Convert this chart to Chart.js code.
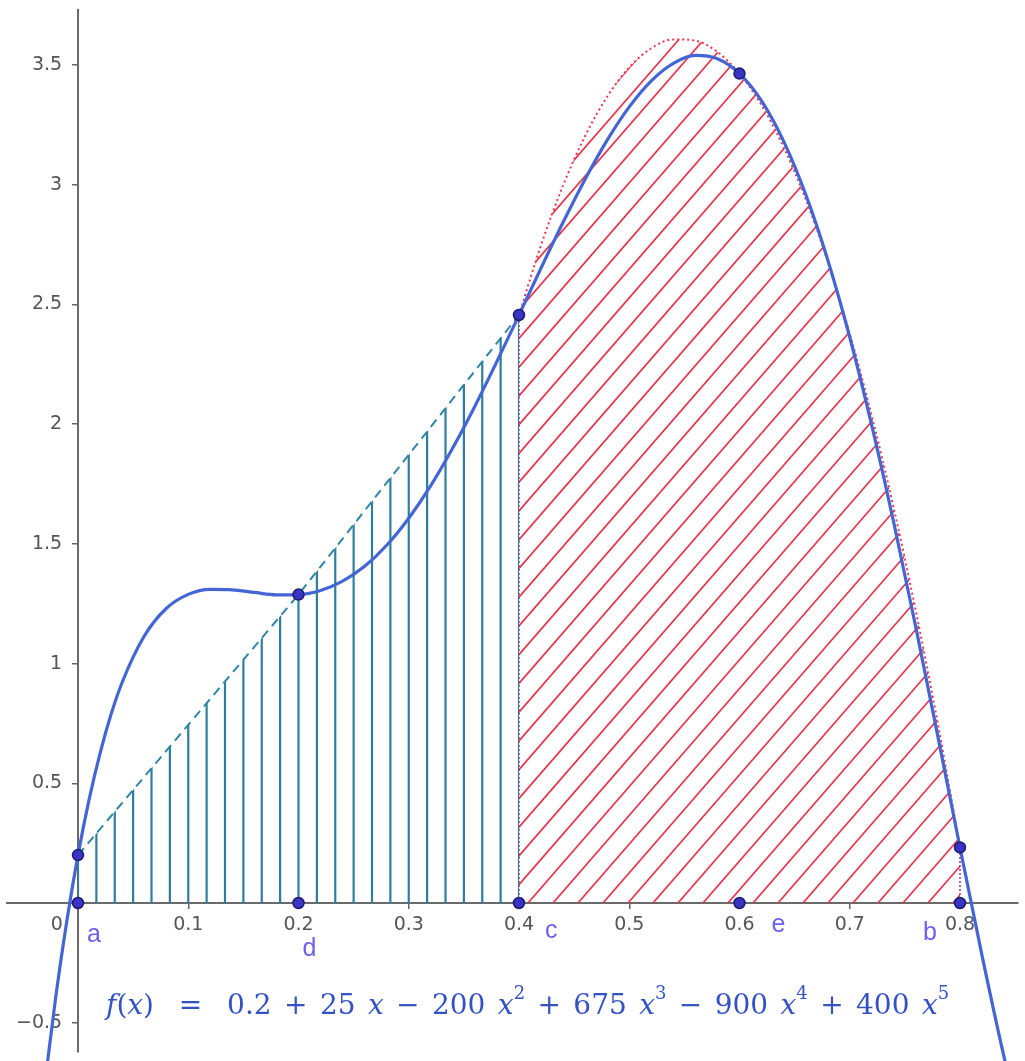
<!DOCTYPE html>
<html>
<head>
<meta charset="utf-8">
<script src="https://cdn.jsdelivr.net/npm/chart.js@4.4.1/dist/chart.umd.min.js"></script>
<style>
html, body { margin: 0; padding: 0; background: #ffffff; }
#wrap { position: relative; width: 1025px; height: 1061px; overflow: hidden; }
#formula {
  position: absolute; left: 106px; top: 990px;
  font-family: 'DejaVu Serif', 'Liberation Serif', serif;
  font-size: 28px; line-height: 30px; color: #3552c4; white-space: pre;
  word-spacing: 3.5px;
}
#formula i { font-style: italic; }
#formula sup { font-size: 18px; line-height: 0; position: relative; top: -5px; }
</style>
</head>
<body>
<div id="wrap">
  <canvas id="c" width="1025" height="1061"></canvas>
  <div id="formula"><i>f</i>(<i>x</i>)  =  0.2 + 25 <i>x</i> − 200 <i>x</i><sup>2</sup> + 675 <i>x</i><sup>3</sup> − 900 <i>x</i><sup>4</sup> + 400 <i>x</i><sup>5</sup></div>
</div>
<script>
// ---- data ----
const curveX = [-0.04, -0.03, -0.02, -0.01, 0, 0.01, 0.02, 0.03, 0.04, 0.06, 0.08, 0.10, 0.12, 0.14, 0.16, 0.18, 0.20, 0.22, 0.24, 0.26, 0.28, 0.30, 0.32, 0.34, 0.36, 0.38, 0.40, 0.42, 0.44, 0.46, 0.48, 0.50, 0.52, 0.54, 0.56, 0.58, 0.60, 0.62, 0.64, 0.66, 0.68, 0.70, 0.72, 0.74, 0.76, 0.78, 0.80, 0.82, 0.84, 0.86];
const curveY = [-1.166, -0.749, -0.386, -0.071, 0.2, 0.431, 0.625, 0.788, 0.921, 1.114, 1.230, 1.289, 1.310, 1.308, 1.297, 1.287, 1.288, 1.305, 1.344, 1.406, 1.494, 1.607, 1.743, 1.901, 2.075, 2.262, 2.456, 2.652, 2.843, 3.023, 3.186, 3.325, 3.434, 3.507, 3.540, 3.526, 3.464, 3.350, 3.182, 2.960, 2.687, 2.363, 1.994, 1.587, 1.150, 0.694, 0.232, -0.220, -0.644, -1.019];

const trapX = [0, 0.2, 0.4];
const trapY = [0.2, 1.288, 2.456];

const simpX = [0.40, 0.42, 0.44, 0.46, 0.48, 0.50, 0.52, 0.54, 0.56, 0.58, 0.60, 0.62, 0.64, 0.66, 0.68, 0.70, 0.72, 0.74, 0.76, 0.78, 0.80];
const simpY = [2.456, 2.748, 2.997, 3.204, 3.368, 3.490, 3.570, 3.607, 3.602, 3.554, 3.464, 3.332, 3.157, 2.940, 2.680, 2.378, 2.034, 1.647, 1.218, 0.746, 0.232];

const nodeX = [0, 0.2, 0.4, 0.6, 0.8];
const nodeY = [0.2, 1.288, 2.456, 3.464, 0.232];
const nodeLabels = ['a', 'd', 'c', 'e', 'b'];

const xTickValues = [0, 0.1, 0.2, 0.3, 0.4, 0.5, 0.6, 0.7, 0.8];
const xTickLabels = ['0', '0.1', '0.2', '0.3', '0.4', '0.5', '0.6', '0.7', '0.8'];
const yTickValues = [-0.5, 0.5, 1, 1.5, 2, 2.5, 3, 3.5];
const yTickLabels = ['\u22120.5', '0.5', '1', '1.5', '2', '2.5', '3', '3.5'];

// ---- helpers ----
const zip = (xs, ys) => xs.map((x, i) => ({ x: x, y: ys[i] }));
const axisNodes = nodeX.map(x => ({ x: x, y: 0 }));

// hatch fill plugin: clips to region under a dataset line and strokes hatch lines
const hatchPlugin = {
  id: 'hatchFill',
  beforeDatasetDraw(chart, args) {
    const ds = chart.data.datasets[args.index];
    const h = ds.hatch;
    if (!h) return;
    const meta = args.meta;
    const line = meta.dataset;
    const pts = meta.data;
    if (!line || !pts.length) return;
    const { ctx, chartArea } = chart;
    const ys = chart.scales.y;
    const base = ys.getPixelForValue(0);
    const first = pts[0], last = pts[pts.length - 1];
    ctx.save();
    ctx.beginPath();
    line.path(ctx);
    ctx.lineTo(last.x, base);
    ctx.lineTo(first.x, base);
    ctx.closePath();
    ctx.clip();
    ctx.strokeStyle = h.color;
    ctx.lineWidth = h.width;
    ctx.beginPath();
    if (h.type === 'vertical') {
      const step = (last.x - first.x) / h.count;
      for (let k = 0; k <= h.count; k++) {
        const x = first.x + k * step;
        ctx.moveTo(x, chartArea.top);
        ctx.lineTo(x, chartArea.bottom);
      }
    } else {
      const s = h.slope;
      const c0 = first.x + h.phase;
      const down = (chartArea.bottom - base) / s;
      const up = (base - chartArea.top) / s;
      for (let c = c0 - 80 * h.step; c <= last.x + up + h.step; c += h.step) {
        ctx.moveTo(c - down, chartArea.bottom);
        ctx.lineTo(c + up, chartArea.top);
      }
    }
    ctx.stroke();
    ctx.restore();
    if (h.edges) {
      ctx.save();
      ctx.strokeStyle = h.edgeColor;
      ctx.lineWidth = h.edgeWidth;
      ctx.setLineDash(h.edgeDash);
      ctx.beginPath();
      ctx.moveTo(first.x, base); ctx.lineTo(first.x, first.y);
      ctx.moveTo(last.x, base); ctx.lineTo(last.x, last.y);
      ctx.stroke();
      ctx.restore();
    }
  }
};

// point labels plugin
const labelPlugin = {
  id: 'nodeLabels',
  afterDatasetsDraw(chart, args, opts) {
    const { ctx } = chart;
    const xs = chart.scales.x, ys = chart.scales.y;
    const base = ys.getPixelForValue(0);
    ctx.save();
    ctx.font = opts.font;
    ctx.fillStyle = opts.color;
    ctx.textAlign = 'left';
    ctx.textBaseline = 'alphabetic';
    nodeLabels.forEach((t, i) => {
      const off = opts.offsets[i];
      ctx.fillText(t, xs.getPixelForValue(nodeX[i]) + off[0], base + off[1]);
    });
    ctx.restore();
  }
};

Chart.defaults.font.family = "'DejaVu Sans', 'Liberation Sans', sans-serif";
Chart.defaults.font.size = 19;
Chart.defaults.color = '#555555';

const chart = new Chart(document.getElementById('c'), {
  type: 'line',
  data: {
    datasets: [
      {
        label: 'nodes',
        data: zip(nodeX, nodeY).concat(axisNodes),
        showLine: false,
        pointRadius: 5.5,
        pointBackgroundColor: '#3a34c4',
        pointBorderColor: '#1e1a70',
        pointBorderWidth: 1.5,
        clip: false,
        order: 0
      },
      {
        label: 'f(x)',
        data: zip(curveX, curveY),
        borderColor: '#4465d4',
        borderWidth: 3.2,
        cubicInterpolationMode: 'monotone',
        pointRadius: 0,
        fill: false,
        clip: false,
        order: 1
      },
      {
        label: 'trapezoid',
        data: zip(trapX, trapY),
        borderColor: '#2f86a6',
        borderWidth: 2,
        borderDash: [9, 6],
        tension: 0,
        pointRadius: 0,
        fill: false,
        order: 2,
        hatch: { type: 'vertical', color: '#2e7e9e', width: 2.2, count: 24 }
      },
      {
        label: 'simpson',
        data: zip(simpX, simpY),
        borderColor: '#e8374f',
        borderWidth: 2,
        borderDash: [2, 3],
        cubicInterpolationMode: 'monotone',
        pointRadius: 0,
        fill: false,
        order: 3,
        hatch: { type: 'diagonal', color: '#e5384f', width: 1.7, step: 25, slope: 1.15, phase: 9,
                 edges: true, edgeColor: '#b8306a', edgeWidth: 1.5, edgeDash: [2, 2] }
      }
    ]
  },
  options: {
    responsive: false,
    animation: false,
    events: [],
    layout: { padding: 0 },
    plugins: {
      legend: { display: false },
      tooltip: { enabled: false },
      nodeLabels: {
        font: "25px 'Liberation Sans', 'DejaVu Sans', sans-serif",
        color: '#6b62ee',
        offsets: [[9, 39], [4, 53], [26, 35], [32, 29], [-37, 37]]
      }
    },
    scales: {
      x: {
        type: 'linear',
        position: { y: 0 },
        min: -0.07075,
        max: 0.85896,
        afterBuildTicks: (scale) => { scale.ticks = xTickValues.map(v => ({ value: v })); },
        ticks: {
          autoSkip: false,
          maxRotation: 0,
          padding: 6,
          color: '#555555',
          callback: (v, i) => (i === 0 ? xTickLabels[i] + '       ' : xTickLabels[i])
        },
        grid: { display: true, drawOnChartArea: false, drawTicks: true, tickLength: 5, color: '#666666', lineWidth: 1.5 },
        border: { display: true, color: '#6a6a6a', width: 2 }
      },
      y: {
        type: 'linear',
        position: { x: 0 },
        min: -0.6599,
        max: 3.7714,
        afterBuildTicks: (scale) => { scale.ticks = yTickValues.map(v => ({ value: v })); },
        ticks: {
          autoSkip: false,
          padding: 0,
          font: { lineHeight: 1 },
          color: '#555555',
          callback: (v, i) => yTickLabels[i] + '  \u2009'
        },
        grid: { display: true, drawOnChartArea: false, drawTicks: true, tickLength: 5, color: '#666666', lineWidth: 1.5 },
        border: { display: true, color: '#6a6a6a', width: 2 }
      }
    }
  },
  plugins: [hatchPlugin, labelPlugin]
});

// Align the scales so that the origin and unit lengths sit where the reference puts them
(function alignScales() {
  const ca = chart.chartArea;
  const ox = 78, oy = 903;               // pixel of the origin
  const pxPerX = 882 / 0.8;              // pixels per x unit
  const pxPerY = 838 / 3.5;              // pixels per y unit
  chart.options.scales.x.min = (ca.left - ox) / pxPerX;
  chart.options.scales.x.max = (ca.right - ox) / pxPerX;
  chart.options.scales.y.max = (oy - ca.top) / pxPerY;
  chart.options.scales.y.min = (oy - ca.bottom) / pxPerY;
  chart.update();
})();
</script>
</body>
</html>
